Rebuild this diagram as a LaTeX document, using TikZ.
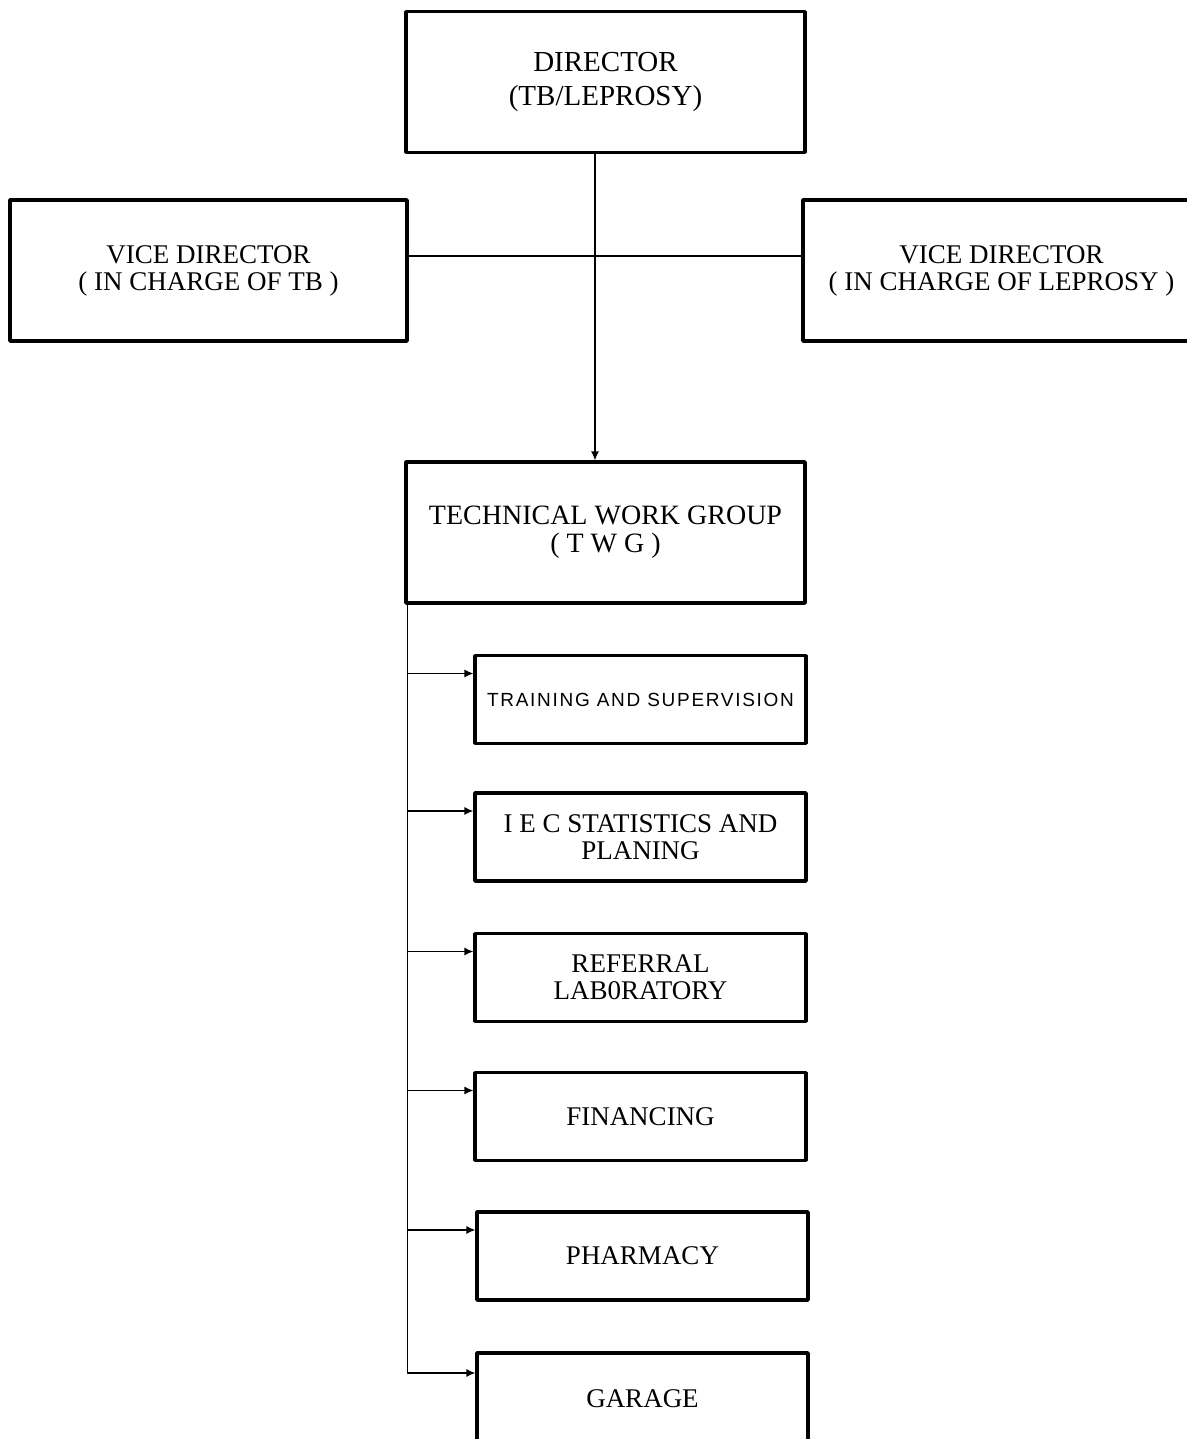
\documentclass[tikz,border=0pt]{standalone}
\usepackage{fontspec}
\usetikzlibrary{arrows.meta}
\setmainfont{Liberation Serif}
\newfontfamily\tsfont[LetterSpace=9]{Liberation Sans}
\begin{document}
\begin{tikzpicture}[>={Latex[length=4.5bp,width=4bp]},line join=bevel,
  topbox/.style={draw,line width=1.6bp,inner sep=0pt,align=center,minimum width=199.5bp,minimum height=70.5bp},
  subbox/.style={draw,line width=1.6bp,inner sep=0pt,align=center,minimum width=165.5bp,minimum height=44bp,font=\fontsize{13.5bp}{13.5bp}\selectfont},
  link/.style={black,line width=0.65bp}]
%%
\useasboundingbox (0bp,0bp) rectangle (593.5bp,719.5bp);
\node (node_dir) at (302.75bp,678.5bp) [topbox,font=\fontsize{14.5bp}{17bp}\selectfont] {\raisebox{-2bp}{DIRECTOR}\\\raisebox{-2bp}{(TB/LEPROSY)}};
  \node (node_vtb) at (104.25bp,584.25bp) [topbox,minimum width=198.5bp,font=\fontsize{13.5bp}{13.5bp}\selectfont] {VICE DIRECTOR\\( IN CHARGE OF TB )};
  \node (node_vlep) at (500.75bp,584.25bp) [topbox,minimum width=198.5bp,font=\fontsize{13.5bp}{13.5bp}\selectfont] {VICE DIRECTOR\\( IN CHARGE OF LEPROSY )};
  \node (node_twg) at (302.75bp,453.25bp) [topbox,font=\fontsize{14bp}{14bp}\selectfont] {TECHNICAL WORK GROUP\\( T W G )};
  \node (node_train) at (320.25bp,369.75bp) [subbox,font=\tsfont\fontsize{9.5bp}{10bp}\selectfont] {TRAINING AND SUPERVISION};
  \node (node_iec) at (320.25bp,301bp) [subbox] {I E C STATISTICS AND\\PLANING};
  \node (node_ref) at (320.25bp,230.75bp) [subbox] {REFERRAL\\LAB0RATORY};
  \node (node_fin) at (320.25bp,161.25bp) [subbox] {FINANCING};
  \node (node_pharm) at (321.25bp,91.5bp) [subbox] {PHARMACY};
  \node (node_gar) at (321.25bp,20bp) [subbox,minimum height=46bp] {GARAGE};
  \draw [link] ([yshift=7.25bp]node_vtb.east) -- ([yshift=7.25bp]node_vlep.west);
  \draw [link,->] ([xshift=-5.25bp]node_dir.south) -- ([xshift=-5.25bp]node_twg.north);
  \foreach \n in {train,iec,ref,fin,pharm,gar}
    \draw [link,->] ([xshift=1.5bp]node_twg.south west) |- ([yshift=13bp]node_\n.west);
%
\end{tikzpicture}
\end{document}
